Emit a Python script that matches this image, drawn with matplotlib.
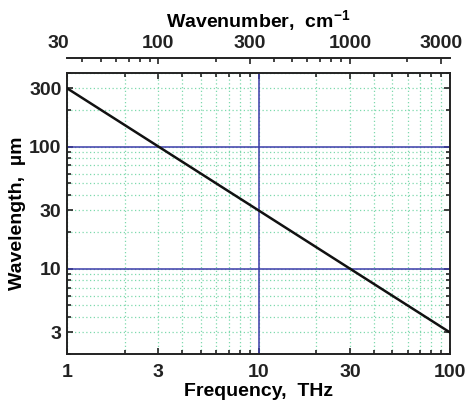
import matplotlib
matplotlib.use('Agg')
import matplotlib.pyplot as plt
from matplotlib.ticker import FixedLocator, FixedFormatter, NullFormatter

plt.rcParams['font.family'] = ['Liberation Sans', 'DejaVu Sans']
plt.rcParams['mathtext.default'] = 'regular'

# data
freq_thz = [1, 100]
wavelength_um = [300, 3]

x_major = [1, 3, 10, 30, 100]
y_major = [3, 10, 30, 100, 300]
top_major = [30, 100, 300, 1000, 3000]
x_decade_lines = [10]
y_decade_lines = [10, 100]
C = 33.356  # cm^-1 per THz

x_minor = [m * 10 ** k for k in (0, 1) for m in range(2, 10) if m != 3]
y_minor = [m * 10 ** k for k in (0, 1, 2) for m in range(2, 10) if m != 3]
top_minor = [m * 10 ** k for k in (1, 2, 3) for m in range(2, 10) if m != 3]

green = '#7ed9ad'
blue = '#3c3caa'

fig = plt.figure(figsize=(4.66, 4.04), dpi=100)
ax = fig.add_axes([0.1438, 0.1238, 0.8219, 0.6955])
ax.set_xscale('log')
ax.set_yscale('log')
ax.set_xlim(1, 100)
ax.set_ylim(2, 400)

ax.xaxis.set_major_locator(FixedLocator(x_major))
ax.xaxis.set_major_formatter(FixedFormatter([str(v) for v in x_major]))
ax.xaxis.set_minor_locator(FixedLocator(x_minor))
ax.xaxis.set_minor_formatter(NullFormatter())
ax.yaxis.set_major_locator(FixedLocator(y_major))
ax.yaxis.set_major_formatter(FixedFormatter([str(v) for v in y_major]))
ax.yaxis.set_minor_locator(FixedLocator(y_minor))
ax.yaxis.set_minor_formatter(NullFormatter())

ax.grid(which='both', color=green, linestyle=(0, (1, 2)), linewidth=0.9)
for xv in x_decade_lines:
    ax.axvline(xv, color=blue, linewidth=1.1, zorder=2)
for yv in y_decade_lines:
    ax.axhline(yv, color=blue, linewidth=1.1, zorder=2)

ax.plot(freq_thz, wavelength_um, color='#111111', linewidth=1.8, zorder=3)

for s in ax.spines.values():
    s.set_linewidth(1.4)
    s.set_color('#222222')
ax.tick_params(which='both', direction='in', top=True, right=True,
               width=1.2, colors='#222222', labelsize=14)
ax.tick_params(which='major', length=4.5)
ax.tick_params(which='minor', length=3)
ax.tick_params(axis='x', pad=7)
ax.tick_params(axis='y', pad=4)
for lab in ax.get_xticklabels() + ax.get_yticklabels():
    lab.set_fontweight('bold')

ax.set_xlabel('Frequency,  THz', fontsize=14, fontweight='bold', labelpad=2)
ax.set_ylabel('Wavelength,  µm', fontsize=14, fontweight='bold', labelpad=2)

top_loc = 1.0534
sec = ax.secondary_xaxis(top_loc, functions=(lambda f: f * C, lambda w: w / C))
sec.xaxis.set_major_locator(FixedLocator(top_major))
sec.xaxis.set_major_formatter(FixedFormatter([str(v) for v in top_major]))
sec.xaxis.set_minor_locator(FixedLocator(top_minor))
sec.xaxis.set_minor_formatter(NullFormatter())
sec.spines['top'].set_linewidth(1.4)
sec.spines['top'].set_color('#222222')
sec.tick_params(which='both', direction='in', width=1.2, colors='#222222',
                labelsize=14, pad=4)
sec.tick_params(which='major', length=4.5)
sec.tick_params(which='minor', length=3)
for lab in sec.get_xticklabels():
    lab.set_fontweight('bold')
sec.set_xlabel('Wavenumber,  cm$^{-1}$', fontsize=14, fontweight='bold', labelpad=6)

# first top label lies just outside the axis range
ax.annotate(str(top_major[0]), xy=(top_major[0] / C, top_loc),
            xycoords=('data', 'axes fraction'), xytext=(0, 4),
            textcoords='offset points', ha='center', va='bottom',
            fontsize=14, fontweight='bold', color='#222222',
            annotation_clip=False)

fig.savefig('out.png', dpi=100)
